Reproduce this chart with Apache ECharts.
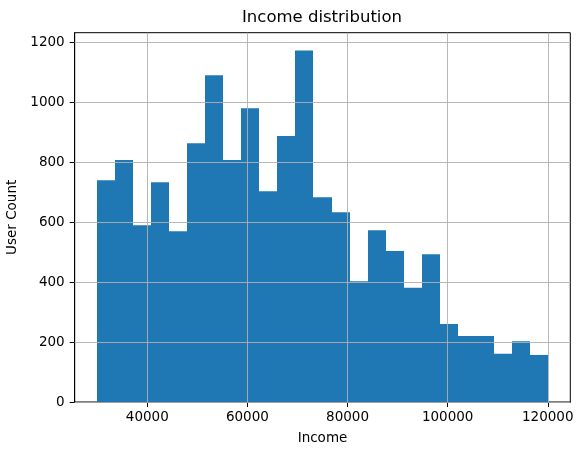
<!DOCTYPE html>
<html>
<head>
<meta charset="utf-8">
<script src="https://cdn.jsdelivr.net/npm/echarts@6/dist/echarts.min.js"></script>
<style>
html,body{margin:0;padding:0;background:#fff;}
#chart{width:584px;height:455px;}
</style>
</head>
<body>
<div id="chart"></div>
<script>
// Histogram bin edges (income)
var binEdges = [30000,33600,37200,40800,44400,48000,51600,55200,58800,62400,66000,69600,73200,76800,80400,84000,87600,91200,94800,98400,102000,105600,109200,112800,116400,120000];
// User counts per bin
var userCounts = [740,807,590,733,570,863,1090,807,980,703,887,1173,683,633,403,573,504,381,493,260,220,220,161,203,157];
// Tick labels
var xTicks = [40000,60000,80000,100000,120000];
var yTicks = [0,200,400,600,800,1000,1200];

var FONT = 'DejaVu Sans';
var barData = userCounts.map(function(c,i){ return [binEdges[i], binEdges[i+1], c]; });

var gridLines = [];
xTicks.forEach(function(v){ gridLines.push({xAxis: v}); });
yTicks.forEach(function(v){ gridLines.push({yAxis: v}); });

function plain(v){ return String(Math.round(v)); }

var chart = echarts.init(document.getElementById('chart'));
chart.setOption({
  animation: false,
  backgroundColor: '#fff',
  title: {
    text: 'Income distribution',
    left: 317, top: 4, textAlign: 'center',
    textStyle: {fontFamily: FONT, fontSize: 16.5, fontWeight: 'normal', color: '#000'}
  },
  grid: {
    left: 74.7, right: 13.7, top: 32.7, bottom: 53,
    containLabel: false, outerBoundsMode: 'none',
    show: true, borderColor: '#000', borderWidth: 1, backgroundColor: 'transparent'
  },
  xAxis: {
    type: 'value', min: 25500, max: 124500,
    name: 'Income', nameLocation: 'middle', nameGap: 29,
    nameTextStyle: {fontFamily: FONT, fontSize: 13.5, color: '#000'},
    axisLine: {show: true, onZero: false, lineStyle: {color: '#000', width: 1}},
    axisTick: {show: true, length: 5, inside: false, customValues: xTicks, lineStyle: {color: '#000', width: 1}},
    axisLabel: {customValues: xTicks, formatter: plain, margin: 8, fontFamily: FONT, fontSize: 13.5, color: '#000'},
    splitLine: {show: false}
  },
  yAxis: {
    type: 'value', min: 0, max: 1232,
    name: 'User Count', nameLocation: 'middle', nameGap: 49, nameRotate: 90,
    nameTextStyle: {fontFamily: FONT, fontSize: 13.5, color: '#000'},
    axisLine: {show: true, lineStyle: {color: '#000', width: 1}},
    axisTick: {show: true, length: 5, inside: false, customValues: yTicks, lineStyle: {color: '#000', width: 1}},
    axisLabel: {customValues: yTicks, formatter: plain, margin: 10, fontFamily: FONT, fontSize: 13.5, color: '#000'},
    splitLine: {show: false}
  },
  series: [
    {
      type: 'custom',
      z: 2,
      silent: true,
      data: barData,
      encode: {x: [0, 1], y: 2},
      renderItem: function(params, api){
        var p0 = api.coord([api.value(0), api.value(2)]);
        var p1 = api.coord([api.value(1), 0]);
        var x0 = Math.round(p0[0]), x1 = Math.round(p1[0]);
        return {
          type: 'rect',
          shape: {x: x0, y: p0[1], width: x1 - x0, height: p1[1] - p0[1]},
          style: {fill: '#1f77b4', stroke: null}
        };
      }
    },
    {
      type: 'line',
      z: 5,
      silent: true,
      data: [],
      symbol: 'none',
      markLine: {
        silent: true,
        symbol: ['none','none'],
        label: {show: false},
        lineStyle: {color: '#b0b0b0', width: 0.9, type: 'solid', opacity: 1},
        emphasis: {disabled: true},
        animation: false,
        data: gridLines
      }
    }
  ]
});
</script>
</body>
</html>
